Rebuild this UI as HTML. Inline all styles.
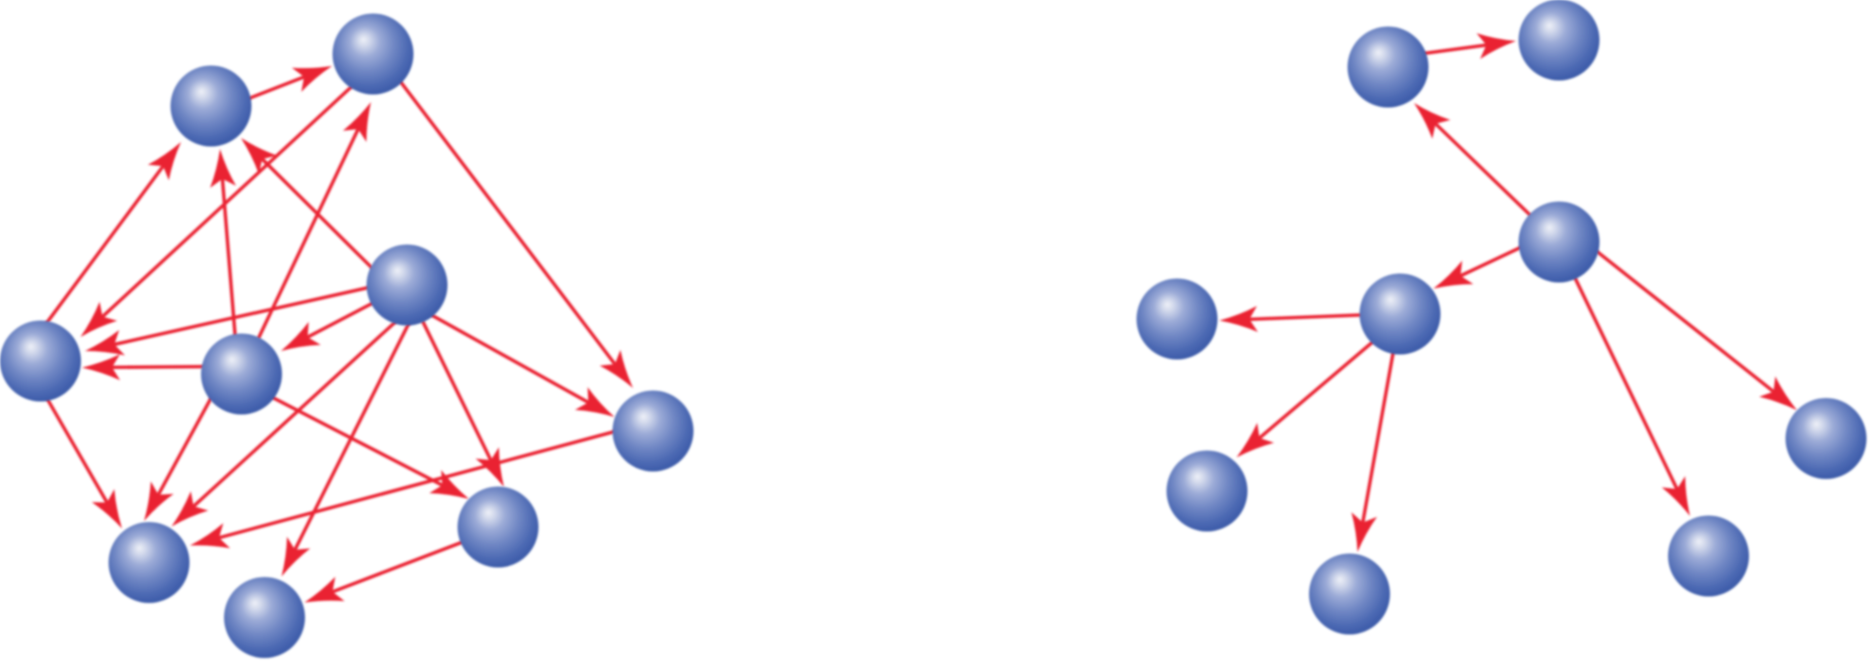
<!DOCTYPE html>
<html lang="en">
<head>
<meta charset="utf-8">
<title>Network diagrams</title>
<style>
html,body{margin:0;padding:0;background:#fff;}
body{width:1870px;height:662px;overflow:hidden;}
svg{display:block;}
</style>
</head>
<body>
<svg id="diagram" xmlns="http://www.w3.org/2000/svg" width="1870" height="662" viewBox="0 0 1870 662">
  <defs>
    <radialGradient id="ball" cx="0.45" cy="0.42" r="0.62" fx="0.38" fy="0.32">
      <stop offset="0" stop-color="#eef0f8"/>
      <stop offset="0.1" stop-color="#d6dced"/>
      <stop offset="0.3" stop-color="#9cabd7"/>
      <stop offset="0.55" stop-color="#7087c4"/>
      <stop offset="0.8" stop-color="#4c69b3"/>
      <stop offset="1" stop-color="#3656a5"/>
    </radialGradient>
    <filter id="soft" x="-2%" y="-2%" width="104%" height="104%">
      <feGaussianBlur stdDeviation="1.1"/>
    </filter>
  </defs>
  <rect x="0" y="0" width="1870" height="662" fill="#ffffff"/>
  <g id="edges" filter="url(#soft)"></g>
  <g id="nodes" filter="url(#soft)"></g>
</svg>
<script>
// Node centres
const nodeX = [211,373,407,40.5,241.5,653,498,149,264.5, 1388,1559,1559,1400,1177,1207,1349.5,1708.5,1826];
const nodeY = [106,54,285,361,374,431,527,562.5,617.5, 67,40,242,314,319,491,594,556,438.5];
const nodeRadius = 40.5;

// Directed edges: source and target node index
const edgeFrom = [0,1,1,3,4,2,4,2,2,4,3,4,2,2,2,2,4,5,6, 9,11,11,11,11,12,12,12];
const edgeTo   = [1,3,5,0,0,0,1,3,4,3,7,7,7,8,6,5,6,7,8, 10,9,12,17,16,13,14,15];

// Where each edge leaves / meets its node, relative to the node centre
const startDX = [41.6,-25,30,8,-6.5,-36,19,-40.5,-38,-38.5,8,-31.5,-15,0,18,29,34,-40,-38, 39,-30,-39.6,42,18,-41,-30.4,-7.4];
const startDY = [-9,36,31,-40.5,-40,-18,-40,3,20,-7.4,40,26,40,42,41,32.5,25,1,16, -14,-28,6,12.7,40,1,30.6,41.7];
const endDX   = [-41,40,-20,-30,9,30,-2,44.5,39.5,41.5,-27,-5,22.5,17,6,-38.5,-29,41,40, -43,26,33.4,-29,-18.5,42.4,29.6,8];
const endDY   = [12,-24,-43,36,43,32,48,-10,-23,6.6,-34,-41.5,-36,-41,-40,-14,-28,-17,-15, 1,36,-25.4,-28.3,-40,1.5,-33.6,-42];

const SVG_NS = 'http://www.w3.org/2000/svg';
const RED = '#ea2433';
const edgeLayer = document.getElementById('edges');
const nodeLayer = document.getElementById('nodes');

function drawEdge(i) {
  const a = edgeFrom[i], b = edgeTo[i];
  const sx = nodeX[a] + startDX[i], sy = nodeY[a] + startDY[i];
  const ex = nodeX[b] + endDX[i], ey = nodeY[b] + endDY[i];
  const len = Math.hypot(ex - sx, ey - sy);
  const ux = (ex - sx) / len, uy = (ey - sy) / len;
  const nx = -uy, ny = ux;
  const x1 = sx - ux * 6, y1 = sy - uy * 6;
  const x2 = ex, y2 = ey;
  const headLen = 38, notch = 30, half = 13, waist = 4.5, waistAt = 20;

  const line = document.createElementNS(SVG_NS, 'line');
  
  
  line.setAttribute('x1', x1);
  line.setAttribute('y1', y1);
  line.setAttribute('x2', x2 - ux * notch);
  line.setAttribute('y2', y2 - uy * notch);
  line.setAttribute('stroke', RED);
  line.setAttribute('stroke-width', '3.4');
  edgeLayer.appendChild(line);

  const at = (d, w) => (x2 - ux * d + nx * w).toFixed(1) + ' ' + (y2 - uy * d + ny * w).toFixed(1);
  const head = document.createElementNS(SVG_NS, 'path');
  
  
  head.setAttribute('d',
    'M' + at(0, 0) +
    ' Q' + at(waistAt, waist) + ' ' + at(headLen, half) +
    ' L' + at(notch, 0) +
    ' L' + at(headLen, -half) +
    ' Q' + at(waistAt, -waist) + ' ' + at(0, 0) + 'Z');
  head.setAttribute('fill', RED);
  edgeLayer.appendChild(head);
}

function drawNode(i) {
  const c = document.createElementNS(SVG_NS, 'circle');
  
  
  c.setAttribute('cx', nodeX[i]);
  c.setAttribute('cy', nodeY[i]);
  c.setAttribute('r', nodeRadius);
  c.setAttribute('fill', 'url(#ball)');
  nodeLayer.appendChild(c);
}

edgeFrom.forEach((_, i) => drawEdge(i));
nodeX.forEach((_, i) => drawNode(i));
</script>
</body>
</html>
